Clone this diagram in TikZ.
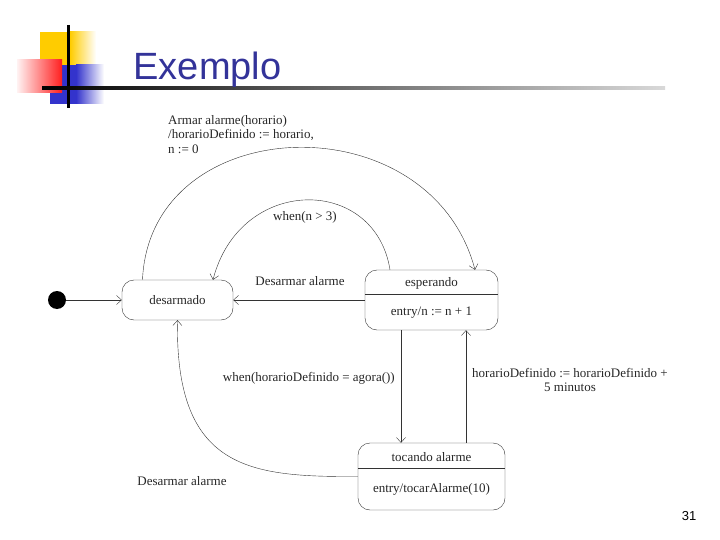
\documentclass[tikz,border=0pt]{standalone}
\usepackage{fontspec}
\setmainfont{Liberation Serif}
\newfontfamily\titlefont{Liberation Sans}
\usetikzlibrary{arrows.meta}
\definecolor{titleblue}{RGB}{51,51,153}
\definecolor{logoyellow}{RGB}{255,204,0}
\definecolor{logoblue}{RGB}{51,51,204}
\definecolor{logored}{RGB}{255,30,30}
\begin{document}
\begin{tikzpicture}[x=1pt,y=-1pt,
  every node/.style={font=\fontsize{13}{14.5}\selectfont,text=black!85},
  state/.style={draw=black!80,thin,rounded corners=12pt},
  trans/.style={draw=black!80,thin,-{Straight Barb[length=5pt,width=9pt]}},
  lbl/.style={inner sep=0pt}]
  \useasboundingbox (0,0) rectangle (720,540);
  % logo and title
  \fill[logoyellow] (40,32) rectangle (70,88);
  \shade[left color=logoyellow,right color=white] (70,32) rectangle (96,88);
  \fill[logoblue] (50,65) rectangle (76,104);
  \shade[left color=logoblue,right color=white] (76,65) rectangle (104,104);
  \shade[left color=red!5,right color=logored] (17,60) rectangle (62,93);
  \draw[line width=3pt] (68,25) -- (68,108);
  \shade[left color=black,right color=black!15] (42,86.5) rectangle (665,89.5);
  \node[anchor=base west,text=titleblue,font=\titlefont\fontsize{38}{46}\selectfont] (title) at (130,80) {Exemplo};
  % states
  \node[circle,fill=black,minimum size=18,inner sep=0pt] (start) at (57,300) {};
  \node[state,minimum width=111,minimum height=40] (desarmado) at (177.5,300) {desarmado};
  \node[state,minimum width=133,minimum height=60] (esperando) at (431.5,300) {};
  \node (esperandoname) at (431.5,283) {esperando};
  \node (esperandoentry) at (431.5,313) {entry/n := n + 1};
  \draw[black!80] ([yshift=-24pt]esperando.north west) -- ([yshift=-24pt]esperando.north east);
  \node[state,minimum width=147,minimum height=67] (tocando) at (431.5,476.5) {};
  \node (tocandoname) at (431.5,457) {tocando alarme};
  \node (tocandoentry) at (431.5,489) {entry/tocarAlarme(10)};
  \draw[black!80] ([yshift=-25pt]tocando.north west) -- ([yshift=-25pt]tocando.north east);
  % transitions
  \draw[trans] (start) -- (desarmado);
  \draw[trans] ([xshift=-35pt]desarmado.north) .. controls (150,110) and (430,100) .. ([xshift=43.5pt]esperando.north);
  \draw[trans] ([xshift=-41.5pt]esperando.north) .. controls (375,175) and (240,175) .. ([xshift=35.5pt]desarmado.north);
  \draw[trans] (esperando.west) -- (desarmado.east);
  \draw[trans] ([xshift=-30.5pt]esperando.south) -- ([xshift=-30.5pt]tocando.north);
  \draw[trans] ([xshift=34.5pt]tocando.north) -- ([xshift=34.5pt]esperando.south);
  \draw[trans] (tocando.west) .. controls (250,477) and (175,470) .. (desarmado.south);
  % labels
  \node[lbl,align=left,anchor=north west] (armar) at (168,115) {Armar alarme(horario)\\/horarioDefinido := horario,\\n := 0};
  \node[lbl] (whenn) at (305,217) {when(n > 3)};
  \node[lbl] (desarmartop) at (300,281) {Desarmar alarme};
  \node[lbl,anchor=east] (whenhor) at (395,378) {when(horarioDefinido = agora())};
  \node[lbl,align=center] (adiar) at (570,380) {horarioDefinido := horarioDefinido +\\5 minutos};
  \node[lbl] (desarmarbottom) at (182,481) {Desarmar alarme};
  \node[font=\titlefont\fontsize{13}{15}\selectfont,text=black] (page) at (689,516) {31};
\end{tikzpicture}
\end{document}
